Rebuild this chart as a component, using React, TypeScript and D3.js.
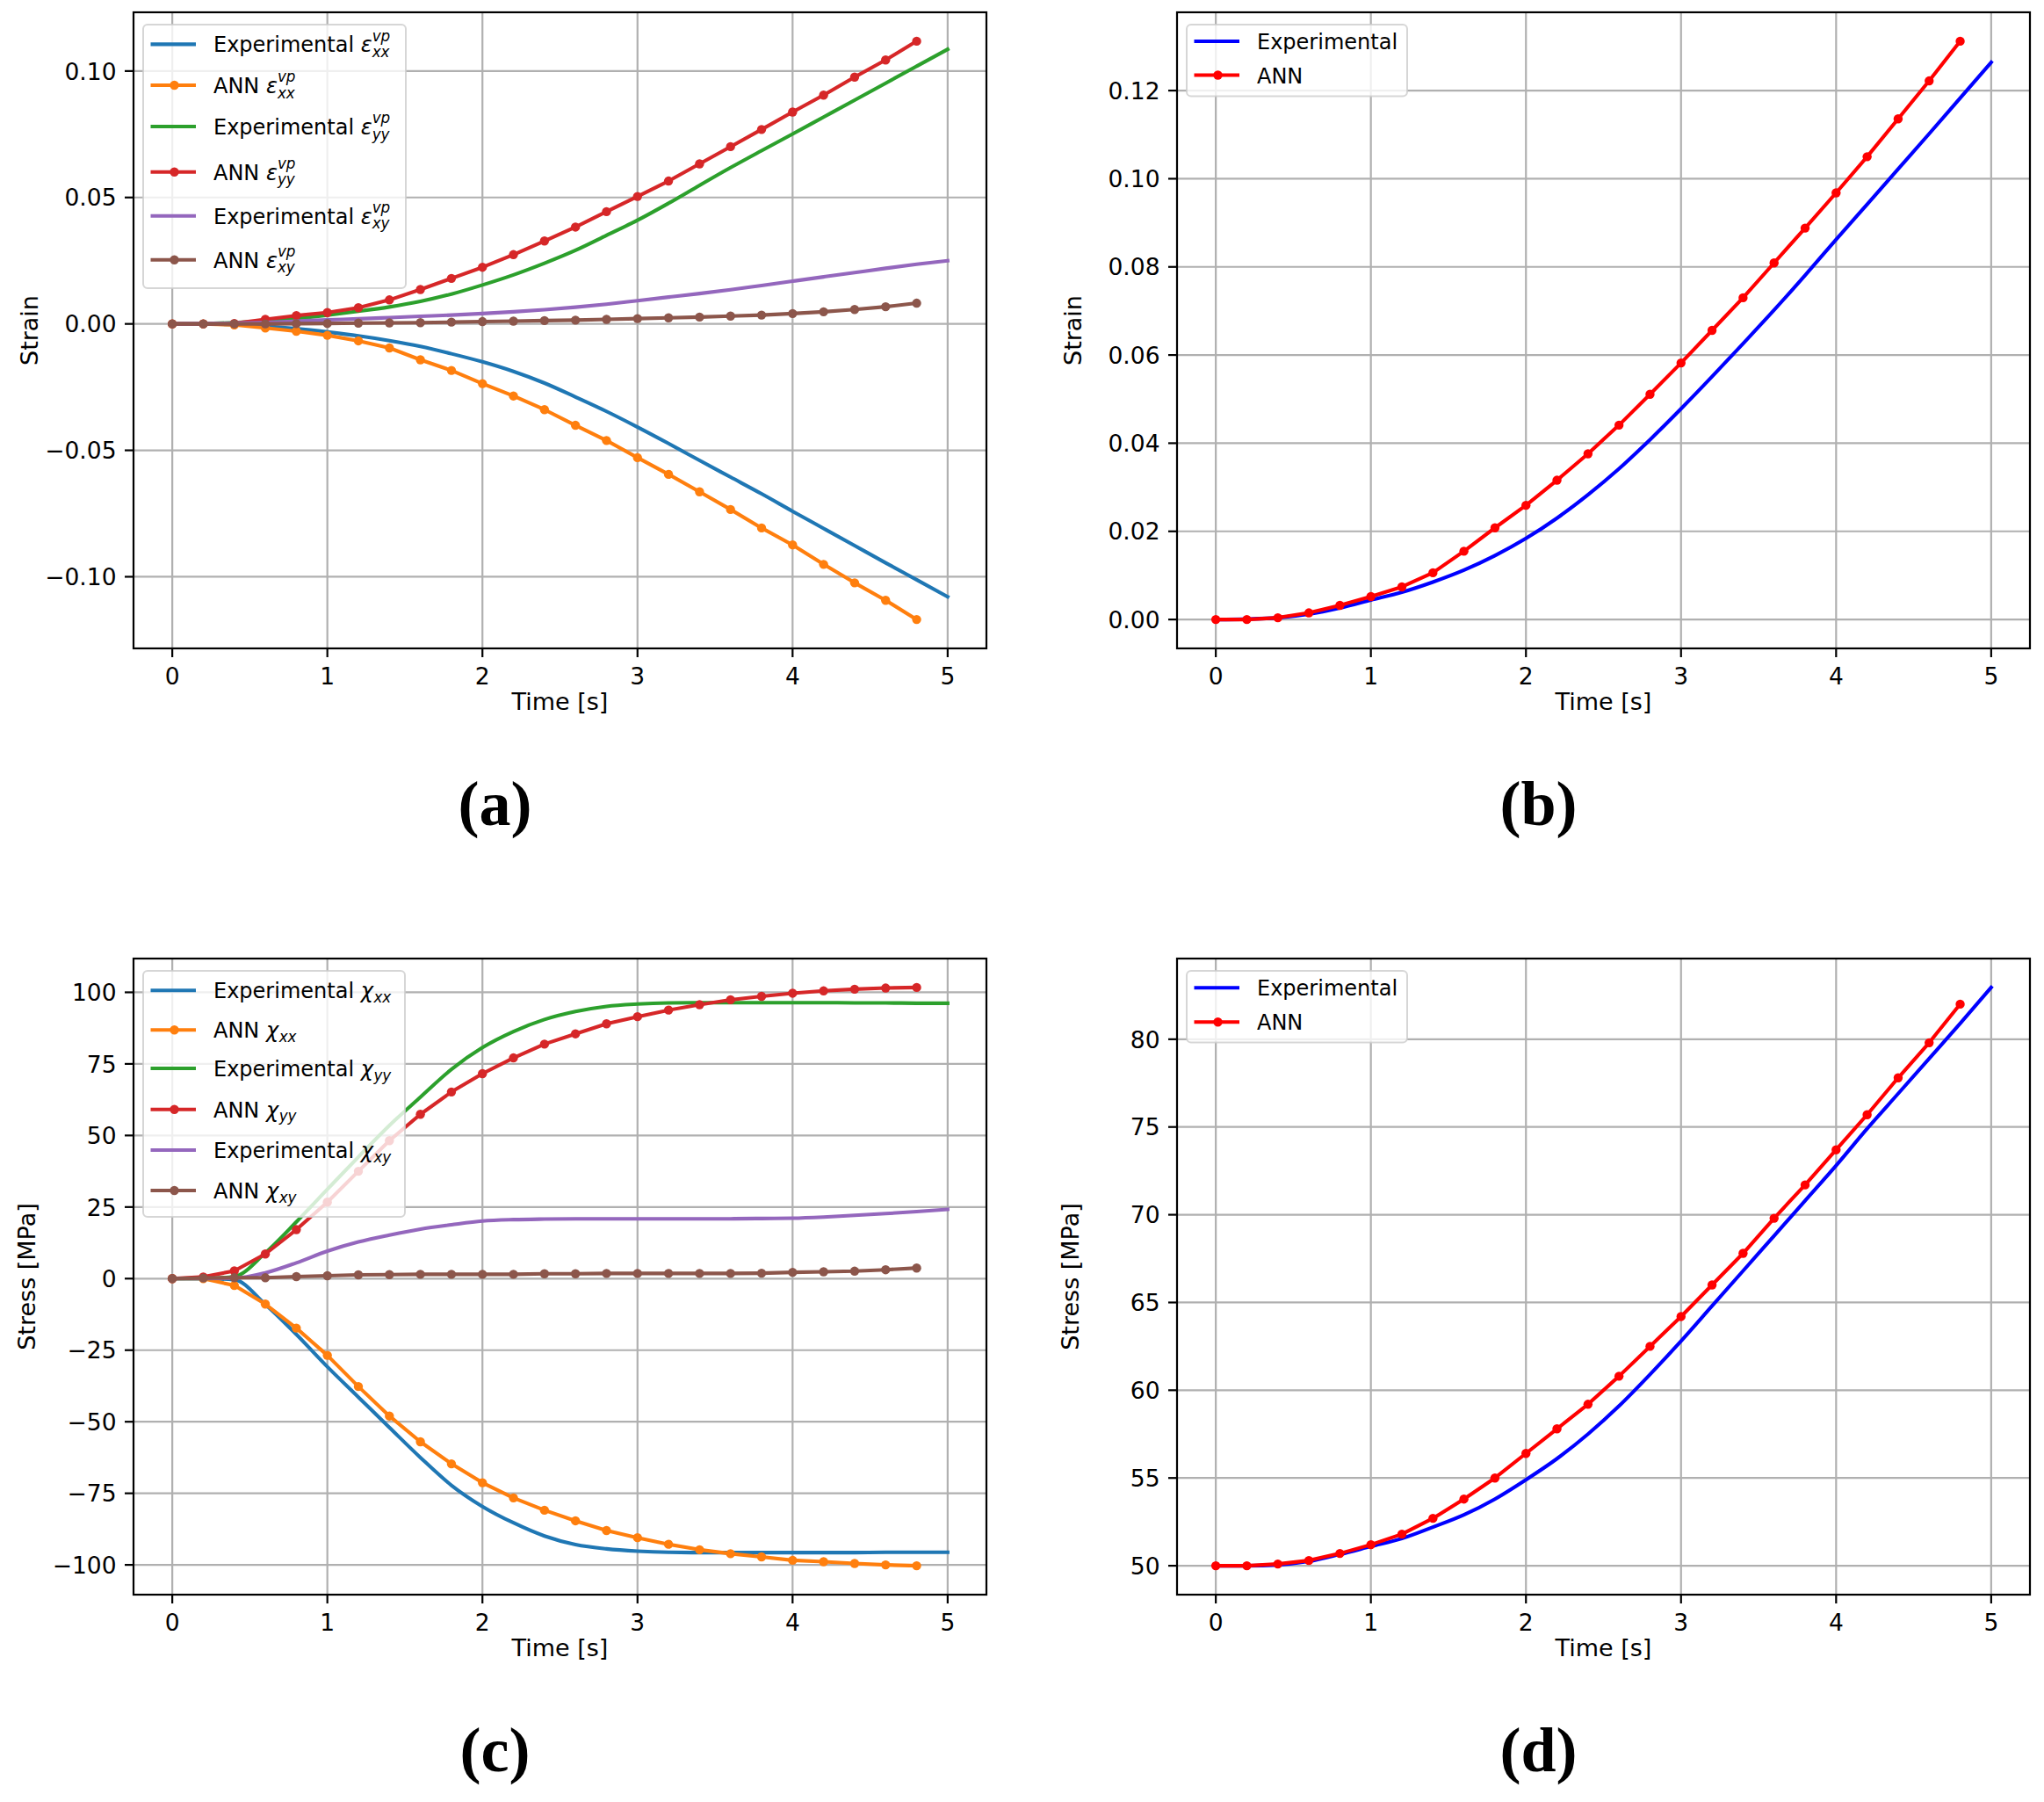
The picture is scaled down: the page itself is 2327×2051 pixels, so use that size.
import * as d3 from "d3"

// time stamps: experimental curves and ANN predictions
const TIME_EXP = [0, 0.2, 0.4, 0.6, 0.8, 1.0, 1.2, 1.4, 1.6, 1.8, 2.0, 2.2, 2.4, 2.6, 2.8, 3.0, 3.2, 3.4, 3.6, 3.8, 4.0, 4.2, 4.4, 4.6, 4.8, 5.0]
const TIME_ANN = [0, 0.2, 0.4, 0.6, 0.8, 1.0, 1.2, 1.4, 1.6, 1.8, 2.0, 2.2, 2.4, 2.6, 2.8, 3.0, 3.2, 3.4, 3.6, 3.8, 4.0, 4.2, 4.4, 4.6, 4.8]

// (a) viscoplastic strain components
const EXP_EPS_XX = [0, 0, -0.0003, -0.0009, -0.0019, -0.0032, -0.0047, -0.0066, -0.0089, -0.0118, -0.015, -0.0188, -0.0234, -0.0289, -0.0346, -0.0408, -0.0473, -0.054, -0.0606, -0.0672, -0.0741, -0.0809, -0.0877, -0.0945, -0.1012, -0.1079]
const ANN_EPS_XX = [0, 0, -0.0004, -0.0016, -0.0029, -0.0045, -0.0067, -0.0095, -0.0142, -0.0184, -0.0236, -0.0285, -0.0339, -0.0401, -0.0461, -0.0529, -0.0595, -0.0664, -0.0734, -0.0807, -0.0874, -0.0951, -0.1024, -0.1093, -0.1169]
const EXP_EPS_YY = [0, 0.0001, 0.0005, 0.0012, 0.0022, 0.0035, 0.005, 0.0067, 0.0089, 0.0118, 0.0154, 0.0194, 0.024, 0.0291, 0.035, 0.041, 0.0477, 0.0548, 0.0618, 0.0685, 0.0751, 0.0818, 0.0885, 0.0952, 0.1019, 0.1086]
const ANN_EPS_YY = [0, 0, 0.0002, 0.0018, 0.0033, 0.0045, 0.0064, 0.0095, 0.0136, 0.018, 0.0224, 0.0274, 0.0328, 0.0383, 0.0444, 0.0504, 0.0565, 0.0633, 0.0701, 0.0769, 0.0838, 0.0905, 0.0976, 0.1044, 0.1118]
const EXP_EPS_XY = [0, 0.0001, 0.0003, 0.0006, 0.0011, 0.0016, 0.002, 0.0025, 0.003, 0.0035, 0.0041, 0.0048, 0.0056, 0.0066, 0.0078, 0.0092, 0.0106, 0.012, 0.0135, 0.0152, 0.0169, 0.0186, 0.0203, 0.022, 0.0236, 0.025]
const ANN_EPS_XY = [0, 0, 0, 0, 0.0001, 0.0002, 0.0003, 0.0004, 0.0005, 0.0007, 0.0009, 0.0011, 0.0013, 0.0015, 0.0018, 0.0021, 0.0024, 0.0027, 0.0031, 0.0035, 0.0041, 0.0048, 0.0057, 0.0068, 0.0082]

// (b) equivalent strain
const EXP_EPS_EQ = [0, 0.0001, 0.0004, 0.0012, 0.0026, 0.0044, 0.0062, 0.0085, 0.0112, 0.0145, 0.0184, 0.023, 0.0283, 0.0342, 0.0408, 0.0478, 0.0551, 0.0626, 0.0702, 0.0781, 0.0862, 0.0942, 0.1022, 0.1102, 0.1183, 0.1264]
const ANN_EPS_EQ = [0, 0, 0.0004, 0.0015, 0.0032, 0.0052, 0.0074, 0.0106, 0.0155, 0.0208, 0.0259, 0.0316, 0.0376, 0.0441, 0.0511, 0.0582, 0.0656, 0.073, 0.0809, 0.0888, 0.0968, 0.105, 0.1136, 0.1222, 0.1312]

// (c) back stress components [MPa]
const EXP_CHI_XX = [0, 0, -0.4, -9.0, -19.5, -30.8, -41.4, -52.0, -62.5, -72.2, -79.6, -85.3, -89.9, -92.9, -94.4, -95.2, -95.6, -95.7, -95.7, -95.7, -95.7, -95.7, -95.7, -95.6, -95.6, -95.6]
const ANN_CHI_XX = [0, 0, -2.4, -8.9, -17.3, -26.8, -37.7, -48.0, -57.0, -64.7, -71.3, -76.6, -80.9, -84.6, -88.0, -90.5, -92.8, -94.7, -96.1, -97.2, -98.4, -98.9, -99.5, -100.0, -100.3]
const EXP_CHI_YY = [0, 0, 0.7, 9.0, 19.8, 31.2, 42.5, 53.5, 63.4, 73.1, 80.7, 86.3, 90.5, 93.3, 95.1, 95.9, 96.3, 96.4, 96.4, 96.4, 96.4, 96.4, 96.3, 96.3, 96.2, 96.2]
const ANN_CHI_YY = [0, 0.6, 2.7, 8.6, 17.1, 26.7, 37.5, 48.2, 57.4, 65.2, 71.6, 77.1, 81.9, 85.5, 89.0, 91.5, 93.8, 95.7, 97.4, 98.6, 99.7, 100.5, 101.1, 101.5, 101.7]
const EXP_CHI_XY = [0, 0, 0.1, 2.0, 5.5, 9.6, 12.8, 15.2, 17.3, 18.8, 20.1, 20.6, 20.8, 20.9, 20.9, 20.9, 20.9, 20.9, 20.9, 21.0, 21.1, 21.5, 22.1, 22.7, 23.4, 24.2]
const ANN_CHI_XY = [0, 0.2, 0.3, 0.3, 0.7, 1.0, 1.3, 1.4, 1.5, 1.5, 1.5, 1.5, 1.7, 1.7, 1.8, 1.8, 1.8, 1.8, 1.8, 1.9, 2.2, 2.4, 2.6, 3.1, 3.7]

// (d) equivalent stress [MPa]
const EXP_SIG_EQ = [50.0, 50.0, 50.05, 50.25, 50.65, 51.1, 51.55, 52.2, 52.9, 53.8, 54.9, 56.1, 57.5, 59.1, 60.9, 62.8, 64.8, 66.8, 68.8, 70.8, 72.8, 74.9, 76.9, 78.9, 80.9, 82.95]
const ANN_SIG_EQ = [50.0, 50.0, 50.1, 50.3, 50.7, 51.2, 51.8, 52.7, 53.8, 55.0, 56.4, 57.8, 59.2, 60.8, 62.5, 64.2, 66.0, 67.8, 69.8, 71.7, 73.7, 75.7, 77.8, 79.8, 82.0]

// tick labels
const X_TICKS = [0, 1, 2, 3, 4, 5]
const Y_TICKS_A = [-0.1, -0.05, 0, 0.05, 0.1]
const Y_TICKS_B = [0, 0.02, 0.04, 0.06, 0.08, 0.1, 0.12]
const Y_TICKS_C = [-100, -75, -50, -25, 0, 25, 50, 75, 100]
const Y_TICKS_D = [50, 55, 60, 65, 70, 75, 80]

const FONT = "DejaVu Sans"
const AX_W = 971
const AX_H = 724
const LW = 4.1

type Series = { t: number[]; v: number[]; color: string; dots: boolean; smooth: boolean }
type Row = { color: string; dots: boolean; text: string; sym?: string; sup?: string; sub?: string }
type PanelDef = {
  left: number
  top: number
  series: Series[]
  yTicks: number[]
  yFmt: (v: number) => string
  yLabel: string
  yLabelShift: number
  legend: { w: number; h: number; rows: Row[]; rowY: number[] }
  caption: string
}

const exp = (v: number[], color: string): Series => ({ t: TIME_EXP, v, color, dots: false, smooth: true })
const ann = (v: number[], color: string): Series => ({ t: TIME_ANN, v, color, dots: true, smooth: false })

const T10 = d3.schemeCategory10

const PANELS: PanelDef[] = [
  {
    left: 152, top: 14,
    series: [
      exp(EXP_EPS_XX, T10[0]), ann(ANN_EPS_XX, T10[1]),
      exp(EXP_EPS_YY, T10[2]), ann(ANN_EPS_YY, T10[3]),
      exp(EXP_EPS_XY, T10[4]), ann(ANN_EPS_XY, T10[5]),
    ],
    yTicks: Y_TICKS_A, yFmt: d3.format(".2f"), yLabel: "Strain", yLabelShift: 109,
    legend: {
      w: 299, h: 300, rowY: [22.4, 69, 116, 167.7, 217.7, 267.7],
      rows: [
        { color: T10[0], dots: false, text: "Experimental ", sym: "ε", sup: "vp", sub: "xx" },
        { color: T10[1], dots: true, text: "ANN ", sym: "ε", sup: "vp", sub: "xx" },
        { color: T10[2], dots: false, text: "Experimental ", sym: "ε", sup: "vp", sub: "yy" },
        { color: T10[3], dots: true, text: "ANN ", sym: "ε", sup: "vp", sub: "yy" },
        { color: T10[4], dots: false, text: "Experimental ", sym: "ε", sup: "vp", sub: "xy" },
        { color: T10[5], dots: true, text: "ANN ", sym: "ε", sup: "vp", sub: "xy" },
      ],
    },
    caption: "(a)",
  },
  {
    left: 1340, top: 14,
    series: [exp(EXP_EPS_EQ, "#0000ff"), ann(ANN_EPS_EQ, "#ff0000")],
    yTicks: Y_TICKS_B, yFmt: d3.format(".2f"), yLabel: "Strain", yLabelShift: 109,
    legend: {
      w: 251, h: 81.5, rowY: [19, 57.5],
      rows: [
        { color: "#0000ff", dots: false, text: "Experimental" },
        { color: "#ff0000", dots: true, text: "ANN" },
      ],
    },
    caption: "(b)",
  },
  {
    left: 152, top: 1091,
    series: [
      exp(EXP_CHI_XX, T10[0]), ann(ANN_CHI_XX, T10[1]),
      exp(EXP_CHI_YY, T10[2]), ann(ANN_CHI_YY, T10[3]),
      exp(EXP_CHI_XY, T10[4]), ann(ANN_CHI_XY, T10[5]),
    ],
    yTicks: Y_TICKS_C, yFmt: d3.format("d"), yLabel: "Stress [MPa]", yLabelShift: 112.5,
    legend: {
      w: 298, h: 280, rowY: [22.3, 67.3, 111, 157.7, 204, 250],
      rows: [
        { color: T10[0], dots: false, text: "Experimental ", sym: "χ", sub: "xx" },
        { color: T10[1], dots: true, text: "ANN ", sym: "χ", sub: "xx" },
        { color: T10[2], dots: false, text: "Experimental ", sym: "χ", sub: "yy" },
        { color: T10[3], dots: true, text: "ANN ", sym: "χ", sub: "yy" },
        { color: T10[4], dots: false, text: "Experimental ", sym: "χ", sub: "xy" },
        { color: T10[5], dots: true, text: "ANN ", sym: "χ", sub: "xy" },
      ],
    },
    caption: "(c)",
  },
  {
    left: 1340, top: 1091,
    series: [exp(EXP_SIG_EQ, "#0000ff"), ann(ANN_SIG_EQ, "#ff0000")],
    yTicks: Y_TICKS_D, yFmt: d3.format("d"), yLabel: "Stress [MPa]", yLabelShift: 112.5,
    legend: {
      w: 251, h: 81.5, rowY: [19.2, 58.2],
      rows: [
        { color: "#0000ff", dots: false, text: "Experimental" },
        { color: "#ff0000", dots: true, text: "ANN" },
      ],
    },
    caption: "(d)",
  },
]

function LegendText({ row, x, y }: { row: Row; x: number; y: number }) {
  const small = 16.8
  return (
    <text x={x} y={y} fontSize={24} fontFamily={FONT} fill="#000">
      {row.text}
      {row.sym && <tspan fontStyle="italic">{row.sym}</tspan>}
      {row.sup && <tspan fontSize={small} fontStyle="italic" dy={-12.7}>{row.sup}</tspan>}
      {row.sub && (
        <tspan fontSize={small} fontStyle="italic" dx={row.sup ? -20.6 : 0.5} dy={row.sup ? 18.4 : 4.5}>
          {row.sub}
        </tspan>
      )}
    </text>
  )
}

function Panel({ p }: { p: PanelDef }) {
  const right = p.left + AX_W
  const bottom = p.top + AX_H
  const x = d3.scaleLinear().domain([-0.25, 5.25]).range([p.left, right])
  const [lo, hi] = d3.extent(p.series.flatMap(s => s.v)) as [number, number]
  const pad = (hi - lo) * 0.05
  const y = d3.scaleLinear().domain([lo - pad, hi + pad]).range([bottom, p.top])

  const path = (s: Series) =>
    d3.line<number>()
      .x((_, i) => x(s.t[i]))
      .y(v => y(v))
      .curve(s.smooth ? d3.curveMonotoneX : d3.curveLinear)(s.v) ?? ""

  const lg = p.legend
  const lx = p.left + 11
  const ly = p.top + 14

  return (
    <g>
      {/* grid */}
      {X_TICKS.map(t => (
        <line key={`gx${t}`} x1={x(t)} x2={x(t)} y1={p.top} y2={bottom} stroke="#b0b0b0" strokeWidth={2.2} />
      ))}
      {p.yTicks.map(t => (
        <line key={`gy${t}`} x1={p.left} x2={right} y1={y(t)} y2={y(t)} stroke="#b0b0b0" strokeWidth={2.2} />
      ))}

      {/* series */}
      {p.series.map((s, i) => (
        <g key={i}>
          <path d={path(s)} fill="none" stroke={s.color} strokeWidth={LW} strokeLinejoin="round" strokeLinecap="square" />
          {s.dots && s.v.map((v, j) => <circle key={j} cx={x(s.t[j])} cy={y(v)} r={5.2} fill={s.color} />)}
        </g>
      ))}

      {/* spines */}
      <rect x={p.left} y={p.top} width={AX_W} height={AX_H} fill="none" stroke="#000" strokeWidth={2.2} />

      {/* x ticks */}
      {X_TICKS.map(t => (
        <g key={`tx${t}`}>
          <line x1={x(t)} x2={x(t)} y1={bottom} y2={bottom + 10} stroke="#000" strokeWidth={2.2} />
          <text x={x(t)} y={bottom + 41.3} textAnchor="middle" fontSize={26.5} fontFamily={FONT}>{d3.format("d")(t)}</text>
        </g>
      ))}
      {/* y ticks */}
      {p.yTicks.map(t => (
        <g key={`ty${t}`}>
          <line x1={p.left - 10} x2={p.left} y1={y(t)} y2={y(t)} stroke="#000" strokeWidth={2.2} />
          <text x={p.left - 19.5} y={y(t) + 9.7} textAnchor="end" fontSize={26.5} fontFamily={FONT}>{p.yFmt(t)}</text>
        </g>
      ))}

      {/* axis labels */}
      <text x={(p.left + right) / 2} y={bottom + 70.3} textAnchor="middle" fontSize={27} fontFamily={FONT}>Time [s]</text>
      <text
        transform={`translate(${p.left - p.yLabelShift},${(p.top + bottom) / 2}) rotate(-90)`}
        textAnchor="middle" fontSize={27} fontFamily={FONT}
      >
        {p.yLabel}
      </text>

      {/* legend */}
      <rect x={lx} y={ly} width={lg.w} height={lg.h} rx={5} fill="#fff" fillOpacity={0.8} stroke="#cccccc" strokeOpacity={0.8} strokeWidth={2} />
      {lg.rows.map((r, i) => {
        const ry = ly + lg.rowY[i]
        return (
          <g key={`lg${i}`}>
            <line x1={lx + 8.5} x2={lx + 60} y1={ry} y2={ry} stroke={r.color} strokeWidth={LW} />
            {r.dots && <circle cx={lx + 35.5} cy={ry} r={5.2} fill={r.color} />}
            <LegendText row={r} x={lx + 80} y={ry + 9} />
          </g>
        )
      })}

      {/* sub caption */}
      <text x={p.left + 411.5} y={p.top + 925} textAnchor="middle" fontSize={72} fontWeight="bold" fontFamily="Liberation Serif">
        {p.caption}
      </text>
    </g>
  )
}

export default function App() {
  return (
    <svg
      width={2327}
      height={2051}
      viewBox="0 0 2327 2051"
      style={{ position: "absolute", left: 0, top: 0, background: "#fff" }}
    >
      <rect width={2327} height={2051} fill="#fff" />
      {PANELS.map((p, i) => <Panel key={i} p={p} />)}
    </svg>
  )
}
